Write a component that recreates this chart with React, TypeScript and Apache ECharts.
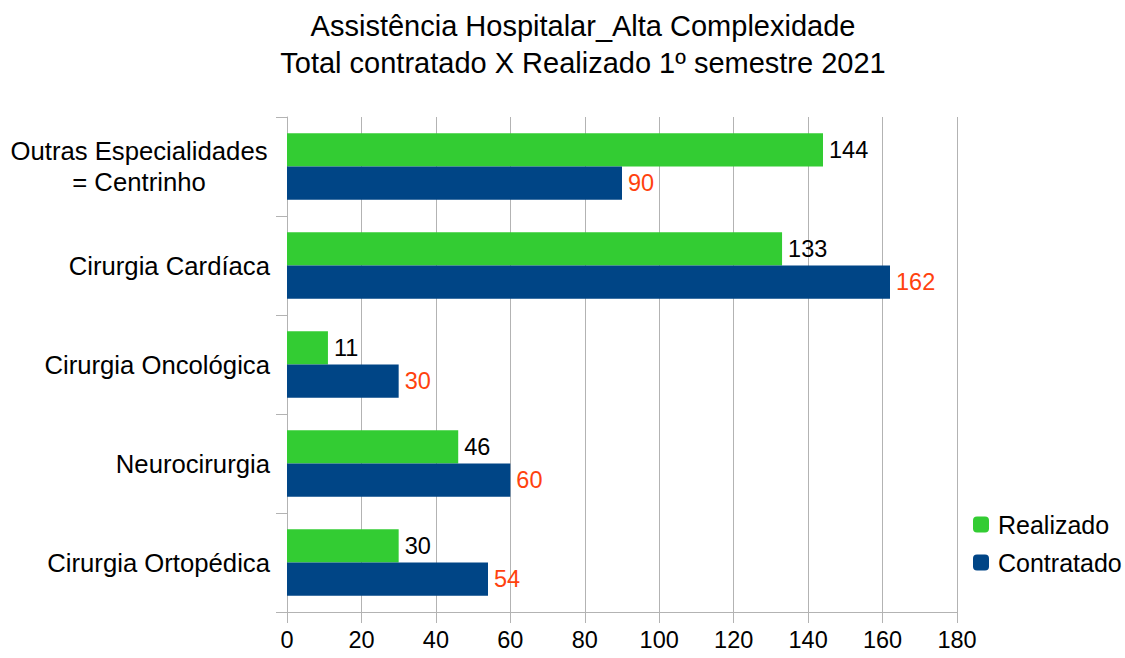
import React, { useEffect, useRef } from "react";
import * as echarts from "echarts";

const categories = [
  "Cirurgia Ortopédica",
  "Neurocirurgia",
  "Cirurgia Oncológica",
  "Cirurgia Cardíaca",
  "Outras Especialidades\n= Centrinho",
];
const realizado = [30, 46, 11, 133, 144];
const contratado = [54, 60, 30, 162, 90];

export default function App() {
  const ref = useRef<HTMLDivElement>(null);
  useEffect(() => {
    const chart = echarts.init(ref.current!, undefined, { renderer: "svg" });
    const font = "'Liberation Sans', Arial, sans-serif";
    chart.setOption({
      animation: false,
      textStyle: { fontFamily: font },
      title: {
        text: "Assistência Hospitalar_Alta Complexidade\nTotal contratado X Realizado 1º semestre 2021",
        left: 583,
        textAlign: "center",
        top: 7,
        padding: 0,
        textStyle: { fontSize: 29, fontWeight: "normal", color: "#000", lineHeight: 37, fontFamily: font },
      },
      legend: {
        orient: "vertical",
        left: 973,
        top: 512,
        padding: 0,
        itemWidth: 16,
        itemHeight: 16,
        itemGap: 13,
        data: ["Realizado", "Contratado"],
        textStyle: { fontSize: 25, color: "#000", fontFamily: font, padding: [0, 0, 0, 4] },
      },
      grid: { left: 287, right: 168, top: 117, bottom: 46, containLabel: false },
      xAxis: {
        type: "value",
        min: 0,
        max: 180,
        interval: 20,
        axisLine: { show: true, lineStyle: { color: "#b3b3b3" } },
        axisTick: { show: true, length: 11, lineStyle: { color: "#b3b3b3" } },
        splitLine: { show: true, lineStyle: { color: "#b3b3b3" } },
        axisLabel: { fontSize: 23.5, color: "#000", margin: 16, fontFamily: font },
      },
      yAxis: {
        type: "category",
        data: categories,
        axisLine: { show: true, lineStyle: { color: "#b3b3b3" } },
        axisTick: { show: true, length: 11, lineStyle: { color: "#b3b3b3" } },
        axisLabel: {
          fontSize: 25.7,
          color: "#000",
          margin: 17,
          lineHeight: 31,
          fontFamily: font,
          formatter: (v: string) =>
            v.indexOf("\n") >= 0
              ? v.split("\n").map((s) => "{c|" + s + "}").join("\n")
              : v,
          rich: {
            c: { width: 262, align: "center", fontSize: 25.7, lineHeight: 31, color: "#000", fontFamily: font },
          },
        },
      },
      series: [
        {
          name: "Realizado",
          type: "bar",
          data: realizado,
          barGap: "0%",
          barCategoryGap: "33%",
          itemStyle: { color: "#33cc33" },
          label: { show: true, position: "right", distance: 6, fontSize: 23.5, color: "#000", fontFamily: font },
        },
        {
          name: "Contratado",
          type: "bar",
          data: contratado,
          barGap: "0%",
          barCategoryGap: "33%",
          itemStyle: { color: "#004586" },
          label: { show: true, position: "right", distance: 6, fontSize: 23.5, color: "#ff420e", fontFamily: font },
        },
      ],
    });
    return () => chart.dispose();
  }, []);
  return <div ref={ref} style={{ width: 1125, height: 658, position: "absolute", left: 0, top: 0 }} />;
}
